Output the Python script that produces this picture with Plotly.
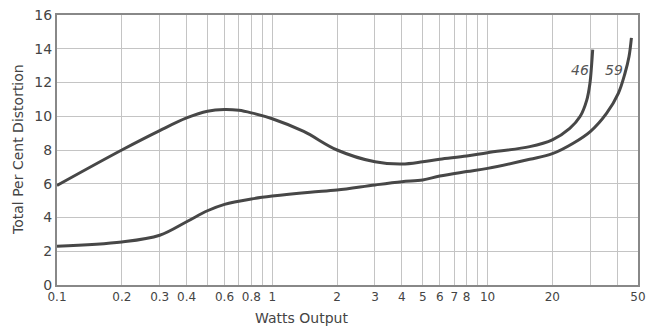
import math
import plotly.graph_objects as go

# Tube 46 (upper curve)
watts_46 = [0.1, 0.2, 0.3, 0.4, 0.5, 0.6, 0.7, 0.8, 1.0, 1.4, 2.0, 3.0, 4.0, 5.0, 6.0, 8.0, 10.0, 15.7, 20.0, 24.1, 26.9, 28.9, 29.9, 30.4, 30.8]
dist_46 = [5.9, 8.0, 9.15, 9.9, 10.3, 10.4, 10.35, 10.2, 9.85, 9.1, 8.0, 7.3, 7.17, 7.3, 7.45, 7.64, 7.84, 8.2, 8.6, 9.28, 9.98, 10.96, 11.95, 12.94, 13.95]

# Tube 59 (lower curve)
watts_59 = [0.1, 0.2, 0.3, 0.4, 0.5, 0.6, 0.8, 1.0, 1.5, 2.0, 3.0, 4.0, 5.0, 6.0, 8.0, 10.0, 15.7, 20.0, 25.0, 30.0, 35.7, 40.5, 43.5, 45.4, 46.6]
dist_59 = [2.3, 2.55, 2.95, 3.75, 4.4, 4.78, 5.1, 5.27, 5.5, 5.63, 5.93, 6.12, 6.22, 6.46, 6.72, 6.91, 7.45, 7.78, 8.4, 9.09, 10.17, 11.36, 12.55, 13.53, 14.65]

x_grid = [0.1, 0.2, 0.3, 0.4, 0.5, 0.6, 0.7, 0.8, 0.9, 1, 2, 3, 4, 5, 6, 7, 8, 9, 10, 20, 30, 40, 50]
x_labels = ["0.1", "0.2", "0.3", "0.4", "", "0.6", "", "0.8", "", "1", "2", "3", "4", "5", "6", "7", "8", "", "10", "20", "", "", "50"]
y_ticks = [0, 2, 4, 6, 8, 10, 12, 14, 16]
series_names = ["46", "59"]
label_x = [26.9, 38.5]
label_y = [12.75, 12.75]

LINE = "#474747"
fig = go.Figure()
for xs, ys, name in [(watts_46, dist_46, series_names[0]), (watts_59, dist_59, series_names[1])]:
    fig.add_trace(go.Scatter(x=xs, y=ys, mode="lines", name=name,
                             line=dict(color=LINE, width=3, shape="spline", smoothing=1.0),
                             showlegend=False))

for lx, ly, name in zip(label_x, label_y, series_names):
    fig.add_annotation(x=math.log10(lx), y=ly, xref="x", yref="y", text="<i>" + name + "</i>",
                       showarrow=False, font=dict(family="DejaVu Sans", size=14, color="#555"))

fig.add_annotation(x=0.42, y=0, xref="paper", yref="paper", yanchor="top",
                   text="Watts Output", showarrow=False, yshift=-23,
                   font=dict(family="DejaVu Sans", size=14, color="#444"))
fig.add_annotation(x=0, y=0.5, xref="paper", yref="paper", xanchor="center", yanchor="middle",
                   text="Total Per Cent Distortion", showarrow=False, textangle=-90, xshift=-39,
                   font=dict(family="DejaVu Sans", size=14, color="#444"))

fig.update_layout(
    width=652, height=330,
    margin=dict(l=57, r=14, t=15, b=45),
    paper_bgcolor="white", plot_bgcolor="white",
    font=dict(family="DejaVu Sans", color="#444"),
)
fig.update_xaxes(type="log", range=[-1, 1.69897], tickvals=x_grid, ticktext=x_labels,
                 showgrid=True, gridcolor="#c4c4c4", gridwidth=1, automargin=False,
                 showline=True, linecolor="#888", linewidth=2, mirror=True,
                 ticks="", tickfont=dict(size=12, color="#444"), zeroline=False)
fig.update_yaxes(range=[0, 16], tickvals=y_ticks,
                 showgrid=True, gridcolor="#c4c4c4", gridwidth=1, automargin=False,
                 showline=True, linecolor="#888", linewidth=2, mirror=True,
                 ticks="", tickfont=dict(size=14, color="#444"), zeroline=False)

fig.write_html("out.html")
